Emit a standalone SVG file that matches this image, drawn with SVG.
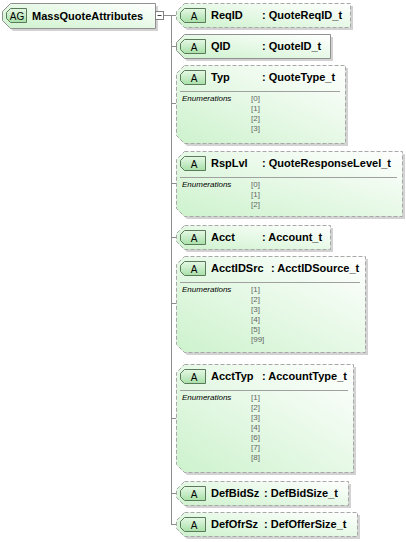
<svg xmlns="http://www.w3.org/2000/svg" width="406" height="542" viewBox="0 0 406 542">
<defs>
<linearGradient id="g" x1="1" y1="0" x2="0" y2="1">
<stop offset="0" stop-color="#ffffff"/>
<stop offset="1" stop-color="#cdf2cd"/>
</linearGradient>
<linearGradient id="gb" x1="0" y1="0" x2="0" y2="1">
<stop offset="0" stop-color="#e6f8e6"/>
<stop offset="1" stop-color="#a8e0a8"/>
</linearGradient>
</defs>
<style>
.sh{fill:#d2d2d2}
.bx{fill:url(#g);stroke:#a8a8a8;stroke-width:1;stroke-dasharray:4,2}
.bs{fill:url(#g);stroke:#909090;stroke-width:1}
.bd{fill:url(#gb);stroke:#5a7a5a;stroke-width:1}
.bt{font-family:"Liberation Sans",Arial,sans-serif;font-size:10px;fill:#000;text-anchor:middle}
.nm{font-family:"Liberation Sans",Arial,sans-serif;font-size:11px;font-weight:bold;fill:#000}
.en{font-family:"Liberation Sans",Arial,sans-serif;font-size:8px;font-style:italic;fill:#000}
.ev{font-family:"Liberation Sans",Arial,sans-serif;font-size:8px;fill:#666}
.sep{stroke:#a0a0a0;stroke-width:1}
.cn{stroke:#8c8c8c;stroke-width:1;fill:none}
</style>
<g id="connectors">
<line class="cn" x1="164" y1="15.5" x2="176" y2="15.5"/>
<line class="cn" x1="171.5" y1="15" x2="171.5" y2="524"/>
<line class="cn" x1="171" y1="46.5" x2="176" y2="46.5"/>
<line class="cn" x1="171" y1="103.5" x2="176" y2="103.5"/>
<line class="cn" x1="171" y1="183.5" x2="176" y2="183.5"/>
<line class="cn" x1="171" y1="237.5" x2="176" y2="237.5"/>
<line class="cn" x1="171" y1="303.5" x2="176" y2="303.5"/>
<line class="cn" x1="171" y1="418.5" x2="176" y2="418.5"/>
<line class="cn" x1="171" y1="493.5" x2="176" y2="493.5"/>
<line class="cn" x1="171" y1="524.5" x2="176" y2="524.5"/>
</g>
<g id="root">
<polygon class="sh" points="13,6 158,6 158,31 13,31 5,23 5,14"/>
<polygon class="bs" points="10.5,3.5 155.5,3.5 155.5,28.5 10.5,28.5 2.5,20.5 2.5,11.5"/>
<polygon class="bd" points="10.5,8.5 26.5,8.5 26.5,22.5 10.5,22.5 6.5,18.5 6.5,12.5"/>
<text class="bt" x="17" y="19.5">AG</text>
<text class="nm" x="32" y="20">MassQuoteAttributes</text>
<rect x="155.5" y="11.5" width="8" height="8" fill="#fff" stroke="#808080"/>
<line x1="157.5" y1="15.5" x2="161.5" y2="15.5" stroke="#404040"/>
</g>
<g id="ReqID">
<polygon class="sh" points="187,6 353,6 353,30 187,30 179,22 179,14"/>
<polygon class="bx" points="184.5,3.5 350.5,3.5 350.5,27.5 184.5,27.5 176.5,19.5 176.5,11.5"/>
<polygon class="bd" points="184.5,8.5 205.5,8.5 205.5,22.5 184.5,22.5 180.5,18.5 180.5,12.5"/>
<text class="bt" x="194" y="19.5">A</text>
<text class="nm" x="211" y="19">ReqID</text>
<text class="nm" x="262" y="19">: QuoteReqID_t</text>
</g>
<g id="QID">
<polygon class="sh" points="187,37 333,37 333,61 187,61 179,53 179,45"/>
<polygon class="bs" points="184.5,34.5 330.5,34.5 330.5,58.5 184.5,58.5 176.5,50.5 176.5,42.5"/>
<polygon class="bd" points="184.5,39.5 205.5,39.5 205.5,53.5 184.5,53.5 180.5,49.5 180.5,43.5"/>
<text class="bt" x="194" y="50.5">A</text>
<text class="nm" x="211" y="50">QID</text>
<text class="nm" x="262" y="50">: QuoteID_t</text>
</g>
<g id="Typ">
<polygon class="sh" points="187,68 348,68 348,146 187,146 179,138 179,76"/>
<polygon class="bx" points="184.5,65.5 345.5,65.5 345.5,143.5 184.5,143.5 176.5,135.5 176.5,73.5"/>
<polygon class="bd" points="184.5,70.5 205.5,70.5 205.5,84.5 184.5,84.5 180.5,80.5 180.5,74.5"/>
<text class="bt" x="194" y="81.5">A</text>
<text class="nm" x="211" y="81">Typ</text>
<text class="nm" x="262" y="81">: QuoteType_t</text>
<line class="sep" x1="180" y1="91.5" x2="340" y2="91.5"/>
<text class="en" x="182" y="101">Enumerations</text>
<text class="ev" x="251" y="101">[0]</text>
<text class="ev" x="251" y="111">[1]</text>
<text class="ev" x="251" y="121">[2]</text>
<text class="ev" x="251" y="131">[3]</text>
</g>
<g id="RspLvl">
<polygon class="sh" points="187,154 405,154 405,219 187,219 179,211 179,162"/>
<polygon class="bx" points="184.5,151.5 402.5,151.5 402.5,216.5 184.5,216.5 176.5,208.5 176.5,159.5"/>
<polygon class="bd" points="184.5,156.5 205.5,156.5 205.5,170.5 184.5,170.5 180.5,166.5 180.5,160.5"/>
<text class="bt" x="194" y="167.5">A</text>
<text class="nm" x="211" y="167">RspLvl</text>
<text class="nm" x="262" y="167">: QuoteResponseLevel_t</text>
<line class="sep" x1="180" y1="177.5" x2="397" y2="177.5"/>
<text class="en" x="182" y="187">Enumerations</text>
<text class="ev" x="251" y="187">[0]</text>
<text class="ev" x="251" y="197">[1]</text>
<text class="ev" x="251" y="207">[2]</text>
</g>
<g id="Acct">
<polygon class="sh" points="187,228 333,228 333,252 187,252 179,244 179,236"/>
<polygon class="bx" points="184.5,225.5 330.5,225.5 330.5,249.5 184.5,249.5 176.5,241.5 176.5,233.5"/>
<polygon class="bd" points="184.5,230.5 205.5,230.5 205.5,244.5 184.5,244.5 180.5,240.5 180.5,234.5"/>
<text class="bt" x="194" y="241.5">A</text>
<text class="nm" x="211" y="241">Acct</text>
<text class="nm" x="262" y="241">: Account_t</text>
</g>
<g id="AcctIDSrc">
<polygon class="sh" points="187,259 368,259 368,355 187,355 179,347 179,267"/>
<polygon class="bx" points="184.5,256.5 365.5,256.5 365.5,352.5 184.5,352.5 176.5,344.5 176.5,264.5"/>
<polygon class="bd" points="184.5,261.5 205.5,261.5 205.5,275.5 184.5,275.5 180.5,271.5 180.5,265.5"/>
<text class="bt" x="194" y="272.5">A</text>
<text class="nm" x="211" y="272">AcctIDSrc</text>
<text class="nm" x="271" y="272">: AcctIDSource_t</text>
<line class="sep" x1="180" y1="282.5" x2="360" y2="282.5"/>
<text class="en" x="182" y="292">Enumerations</text>
<text class="ev" x="251" y="292">[1]</text>
<text class="ev" x="251" y="302">[2]</text>
<text class="ev" x="251" y="312">[3]</text>
<text class="ev" x="251" y="322">[4]</text>
<text class="ev" x="251" y="332">[5]</text>
<text class="ev" x="251" y="342">[99]</text>
</g>
<g id="AcctTyp">
<polygon class="sh" points="187,367 356,367 356,475 187,475 179,467 179,375"/>
<polygon class="bx" points="184.5,364.5 353.5,364.5 353.5,472.5 184.5,472.5 176.5,464.5 176.5,372.5"/>
<polygon class="bd" points="184.5,369.5 205.5,369.5 205.5,383.5 184.5,383.5 180.5,379.5 180.5,373.5"/>
<text class="bt" x="194" y="380.5">A</text>
<text class="nm" x="211" y="380">AcctTyp</text>
<text class="nm" x="262" y="380">: AccountType_t</text>
<line class="sep" x1="180" y1="390.5" x2="348" y2="390.5"/>
<text class="en" x="182" y="400">Enumerations</text>
<text class="ev" x="251" y="400">[1]</text>
<text class="ev" x="251" y="410">[2]</text>
<text class="ev" x="251" y="420">[3]</text>
<text class="ev" x="251" y="430">[4]</text>
<text class="ev" x="251" y="440">[6]</text>
<text class="ev" x="251" y="450">[7]</text>
<text class="ev" x="251" y="460">[8]</text>
</g>
<g id="DefBidSz">
<polygon class="sh" points="187,484 351,484 351,508 187,508 179,500 179,492"/>
<polygon class="bx" points="184.5,481.5 348.5,481.5 348.5,505.5 184.5,505.5 176.5,497.5 176.5,489.5"/>
<polygon class="bd" points="184.5,486.5 205.5,486.5 205.5,500.5 184.5,500.5 180.5,496.5 180.5,490.5"/>
<text class="bt" x="194" y="497.5">A</text>
<text class="nm" x="211" y="497">DefBidSz</text>
<text class="nm" x="264" y="497">: DefBidSize_t</text>
</g>
<g id="DefOfrSz">
<polygon class="sh" points="187,515 360,515 360,539 187,539 179,531 179,523"/>
<polygon class="bx" points="184.5,512.5 357.5,512.5 357.5,536.5 184.5,536.5 176.5,528.5 176.5,520.5"/>
<polygon class="bd" points="184.5,517.5 205.5,517.5 205.5,531.5 184.5,531.5 180.5,527.5 180.5,521.5"/>
<text class="bt" x="194" y="528.5">A</text>
<text class="nm" x="211" y="528">DefOfrSz</text>
<text class="nm" x="264" y="528">: DefOfferSize_t</text>
</g>
</svg>
